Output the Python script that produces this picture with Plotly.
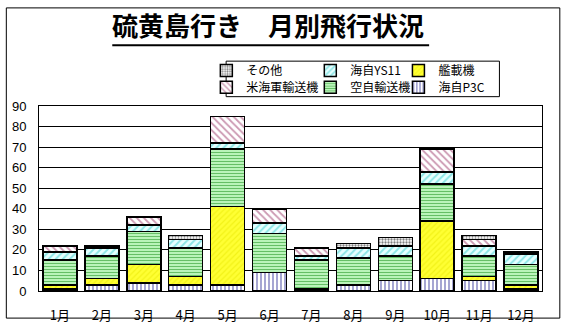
import plotly.graph_objects as go

months = ["1月", "2月", "3月", "4月", "5月", "6月", "7月", "8月", "9月", "10月", "11月", "12月"]
p3c = [1, 3, 4, 3, 3, 9, 1, 3, 5, 6, 5, 1]
kansai = [2, 3, 9, 4, 38, 0, 0, 0, 0, 28, 2, 2]
kuji = [12, 11, 16, 14, 28, 19, 14, 13, 12, 18, 10, 10]
ys11 = [4, 4, 3, 4, 3, 5, 2, 5, 5, 6, 5, 5]
usn = [3, 1, 4, 0, 13, 7, 4, 0, 0, 11, 3, 1]
other = [0, 0, 0, 2, 0, 0, 0, 2, 4, 0, 2, 0]

W, H = 562, 336
L, R, T, B = 34, 20, 106, 32
pw, ph = W - L - R, H - T - B

def px(x):
    return (x - L) / pw

def py(y):
    return (H - B - y) / ph

# name, values, pattern, legend slot (col, row)
series = [
    ("海自P3C", p3c, dict(shape="|", fgcolor="#000080", bgcolor="white", size=4, solidity=0.35), (2, 1)),
    ("艦載機", kansai, dict(shape="/", fgcolor="#E6E600", bgcolor="#FFFF33", size=4, solidity=0.3), (2, 0)),
    ("空自輸送機", kuji, dict(shape="-", fgcolor="#008000", bgcolor="#CCFFCC", size=3, solidity=0.45), (1, 1)),
    ("海自YS11", ys11, dict(shape="/", fgcolor="#33CCCC", bgcolor="#E6FFFF", size=5, solidity=0.4), (1, 0)),
    ("米海軍輸送機", usn, dict(shape="\\", fgcolor="#993366", bgcolor="white", size=5, solidity=0.35), (0, 1)),
    ("その他", other, dict(shape=".", fgcolor="black", bgcolor="white", size=3, solidity=0.45), (0, 0)),
]

col_x = [203, 308, 397]
row_y = [68, 86]

fig = go.Figure()
legends = {}
for i, (name, vals, pat, (c, r)) in enumerate(series):
    key = "legend" if i == 0 else f"legend{i + 1}"
    fig.add_trace(go.Bar(
        x=months, y=vals, name=name, legend=key,
        marker=dict(color=pat["bgcolor"], pattern=pat,
                    line=dict(color="black", width=1.5)),
    ))
    legends[key] = dict(x=px(col_x[c]), xanchor="left", y=py(row_y[r]), yanchor="middle",
                        bgcolor="rgba(0,0,0,0)", borderwidth=0,
                        font=dict(size=12, family="Noto Sans CJK JP", color="black"))

fig.update_layout(
    width=W, height=H,
    margin=dict(l=L, r=R, t=T, b=B, pad=0),
    barmode="stack", bargap=0.19,
    plot_bgcolor="white", paper_bgcolor="white",
    font=dict(family="Noto Sans CJK JP", color="black", size=12),
    title=dict(text="硫黄島行き　月別飛行状況", x=268 / W, xanchor="center",
               y=1 - 27 / H, yanchor="middle", yref="container",
               font=dict(size=26, family="Noto Sans CJK JP", color="black", weight="bold")),
    showlegend=True,
    xaxis=dict(showline=True, linecolor="black", linewidth=1, mirror=True,
               tickfont=dict(size=13), ticks="", ticklabelstandoff=12),
    yaxis=dict(range=[0, 90], dtick=10, showgrid=True, gridcolor="black", gridwidth=1,
               showline=True, linecolor="black", linewidth=1, mirror=True,
               zeroline=False, tickfont=dict(size=13, family="Liberation Sans"),
               ticks="", ticklabelstandoff=9),
    shapes=[
        dict(type="rect", xref="paper", yref="paper", x0=px(1), x1=px(560), y0=py(333), y1=py(1),
             line=dict(color="black", width=1), layer="below"),
        dict(type="line", xref="paper", yref="paper", x0=px(108), x1=px(428), y0=py(41), y1=py(41),
             line=dict(color="black", width=2)),
        dict(type="rect", xref="paper", yref="paper", x0=px(223), x1=px(499), y0=py(96), y1=py(58),
             line=dict(color="black", width=1), fillcolor="white", layer="below"),
    ],
    **legends,
)

fig.write_html("out.html")
